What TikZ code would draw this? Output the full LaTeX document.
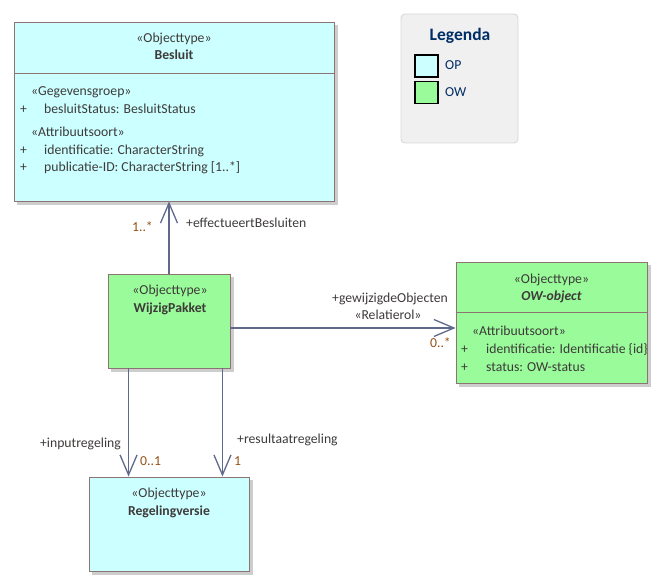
\documentclass[tikz,border=0pt]{standalone}
\usepackage{fontspec}
\setmainfont{Carlito}
\usetikzlibrary{arrows.meta}

\definecolor{opfill}{RGB}{204,255,255}
\definecolor{owfill}{RGB}{153,251,153}
\definecolor{boxline}{RGB}{142,115,115}
\definecolor{shadowc}{RGB}{205,205,205}
\definecolor{txt}{RGB}{62,58,58}
\definecolor{mult}{RGB}{150,80,20}
\definecolor{conn}{RGB}{95,105,140}
\definecolor{legblue}{RGB}{0,45,100}
\definecolor{legfill}{RGB}{240,240,240}
\definecolor{legline}{RGB}{215,215,215}

\tikzset{
  classbox/.style={draw=boxline, line width=0.9pt, inner sep=0pt,
    preaction={fill=shadowc, draw=shadowc, transform canvas={shift={(3pt,-3pt)}}}},
  sep/.style={draw=boxline, line width=0.9pt},
  lbl/.style={inner sep=0pt, text=txt, anchor=base},
  lblw/.style={inner sep=0pt, text=txt, anchor=base west},
  multw/.style={inner sep=0pt, text=mult, anchor=base west},
  multe/.style={inner sep=0pt, text=mult, anchor=base east},
  assoc/.style={draw=conn, line width=1.3pt,
    -{Straight Barb[length=20pt,width=17pt,line width=1.3pt]}},
  legsq/.style={draw=black, line width=1.2pt, minimum width=23pt, minimum height=22pt, inner sep=0pt}
}

\begin{document}
\begin{tikzpicture}[x=1pt,y=-1pt,font=\fontsize{13.7}{16}\selectfont]
\useasboundingbox (0,0) rectangle (663,585);

% ---- legend ----
\node[draw=legline, fill=legfill, rounded corners=4pt, line width=0.9pt,
      minimum width=117pt, minimum height=129pt, inner sep=0pt] (legend) at (459.5,78.5) {};
\node[inner sep=0pt, anchor=base, text=legblue, font=\fontsize{17.5}{20}\selectfont\bfseries] (legtitle) at (460,40.5) {Legenda};
\node[legsq, fill=opfill] (opsq) at (426.5,66) {};
\node[legsq, fill=owfill] (owsq) at (426.5,92.5) {};
\node[inner sep=0pt, anchor=base west, text=legblue] (optxt) at (445,70) {OP};
\node[inner sep=0pt, anchor=base west, text=legblue] (owtxt) at (445,96.5) {OW};

% ---- Besluit ----
\node[classbox, fill=opfill, minimum width=320pt, minimum height=179pt] (besluit) at (174,111.5) {};
\draw[sep] (besluit.west |- 0,73) -- (besluit.east |- 0,73);
\node[lbl] (b1) at (174,43) {«Objecttype»};
\node[lbl, font=\fontsize{13.7}{16}\selectfont\bfseries] (b2) at (174,60) {Besluit};
\node[lblw] (b3) at (31,96) {«Gegevensgroep»};
\node[lblw] (b4p) at (20,114) {+};
\node[lblw] (b4) at (44,114) {besluitStatus: BesluitStatus};
\node[lblw] (b5) at (31,137) {«Attribuutsoort»};
\node[lblw] (b6p) at (20,155) {+};
\node[lblw] (b6) at (44,155) {identificatie: CharacterString};
\node[lblw] (b7p) at (20,172) {+};
\node[lblw] (b7) at (44,172) {publicatie-ID: CharacterString [1..*]};

% ---- WijzigPakket ----
\node[classbox, fill=owfill, minimum width=122pt, minimum height=94pt] (wp) at (169,321) {};
\node[lbl] (w1) at (170,294) {«Objecttype»};
\node[lbl, font=\fontsize{13.7}{16}\selectfont\bfseries] (w2) at (170,312) {WijzigPakket};

% ---- OW-object ----
\node[classbox, fill=owfill, minimum width=191pt, minimum height=121pt] (ow) at (551.5,322.5) {};
\draw[sep] (ow.west |- 0,312) -- (ow.east |- 0,312);
\node[lbl] (o1) at (551.5,283) {«Objecttype»};
\node[lbl, font=\fontsize{13.7}{16}\selectfont\bfseries\itshape] (o2) at (551.5,300) {OW-object};
\node[lblw] (o3) at (472,335) {«Attribuutsoort»};
\node[lblw] (o4p) at (461,353) {+};
\node[lblw] (o4) at (486,353) {identificatie: Identificatie \{id\}};
\node[lblw] (o5p) at (461,371) {+};
\node[lblw] (o5) at (486,371) {status: OW-status};

% ---- Regelingversie ----
\node[classbox, fill=opfill, minimum width=160pt, minimum height=94pt] (rv) at (169,524) {};
\node[lbl] (r1) at (169,497) {«Objecttype»};
\node[lbl, font=\fontsize{13.7}{16}\selectfont\bfseries] (r2) at (169,515) {Regelingversie};

% ---- associations ----
\draw[assoc] (wp.north) -- (wp.north |- besluit.south);
\node[lblw] (a1) at (186,227) {+effectueertBesluiten};
\node[multe] (a1m) at (153,232) {1..*};

\draw[assoc] ([yshift=-7pt]wp.east) -- (ow.west |- 0,328);
\node[lbl] (a2) at (390,302) {+gewijzigdeObjecten};
\node[lbl] (a2s) at (388,319) {«Relatierol»};
\node[multe] (a2m) at (451,347) {0..*};

\draw[assoc] ([xshift=21pt]wp.south west) -- ([xshift=21pt]wp.south west |- rv.north);
\node[inner sep=0pt, text=txt, anchor=base east] (a3) at (121,447) {+inputregeling};
\node[multw] (a3m) at (140,465) {0..1};

\draw[assoc] ([xshift=-8pt]wp.south east) -- ([xshift=-8pt]wp.south east |- rv.north);
\node[lblw] (a4) at (237,443) {+resultaatregeling};
\node[multw] (a4m) at (234,465) {1};
\end{tikzpicture}
\end{document}
